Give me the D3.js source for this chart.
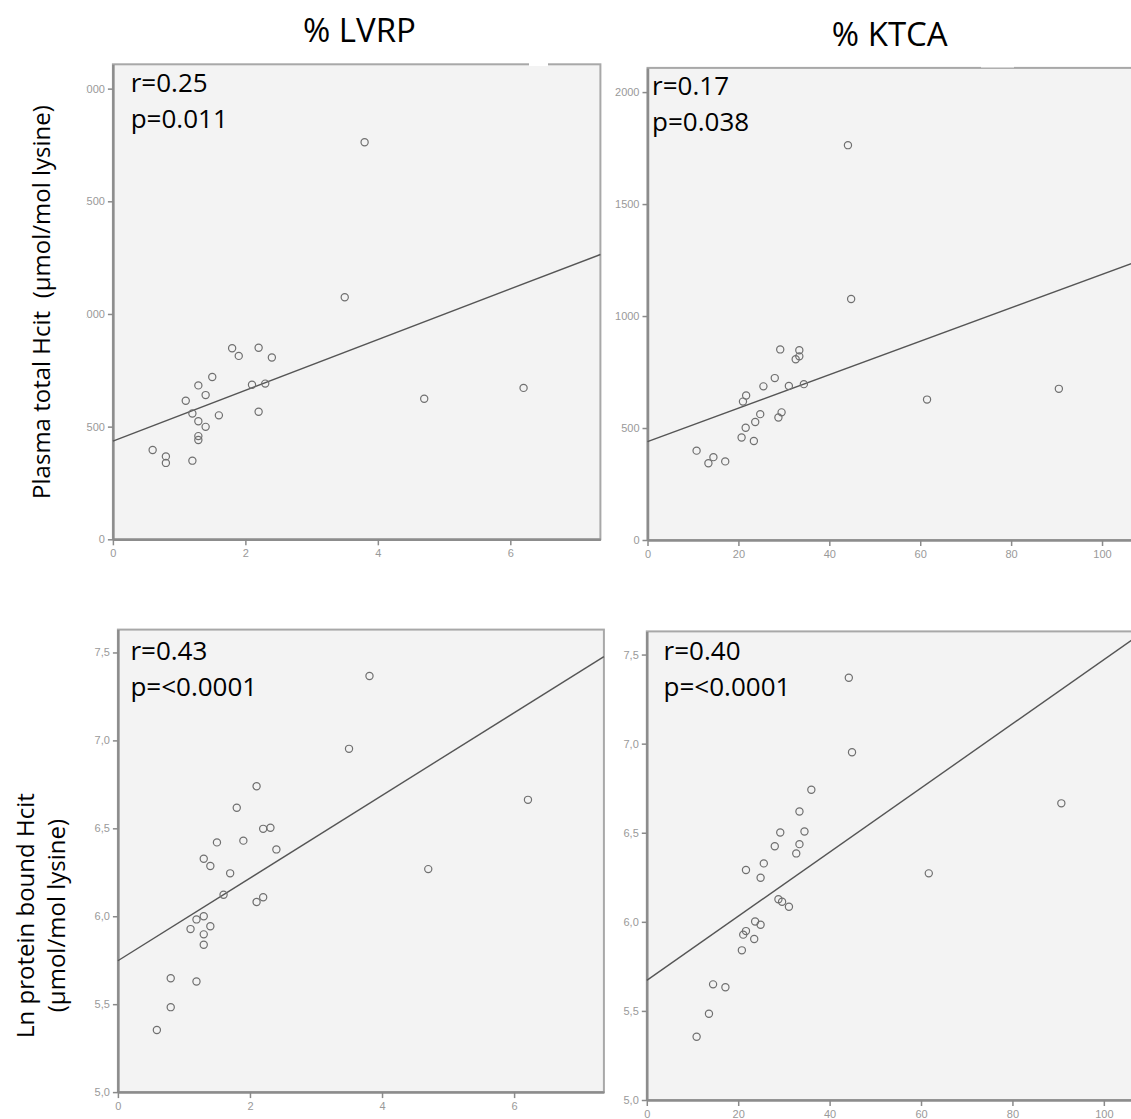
<!DOCTYPE html>
<html>
<head>
<meta charset="utf-8">
<script src="https://cdn.jsdelivr.net/npm/d3@7"></script>
<style>
  body { margin: 0; background: #fff; }
  .tick text { font-family: "Liberation Sans", Arial, sans-serif; font-size: 11px; fill: #999; }
  .tick line { stroke: #8a8a8a; stroke-width: 1.5; }
  .domain { stroke: #8c8c8c; stroke-width: 2.5; }
</style>
</head>
<body>
<div id="chart"></div>
<script>
// ---- data ----
var lvrpTicks = [0, 2, 4, 6]
var ktcaTicks = [0, 20, 40, 60, 80, 100]
var hcitTicks = [0, 500, 1000, 1500, 2000]
var lnTicks = [5.0, 5.5, 6.0, 6.5, 7.0, 7.5]

// plasma total Hcit vs % LVRP
var lvrpTotalX = [3.80, 3.50, 1.80, 1.90, 2.20, 2.40, 1.50, 1.29, 2.10, 2.30, 1.40, 1.10, 4.70, 6.20, 1.20, 1.60, 2.20, 1.29, 1.40, 1.29, 1.29, 0.60, 0.80, 0.80, 1.20]
var lvrpTotalY = [1762, 1074, 848, 814, 850, 807, 720, 683, 686, 691, 640, 615, 624, 672, 558, 550, 566, 524, 499, 458, 441, 396, 368, 339, 349]

// plasma total Hcit vs % KTCA
var ktcaTotalX = [44.1, 44.8, 29.2, 33.4, 33.4, 32.6, 28.0, 25.5, 31.1, 34.4, 21.7, 21.0, 61.5, 90.5, 24.8, 29.5, 28.8, 23.7, 21.6, 20.7, 23.4, 10.8, 14.5, 13.4, 17.1]
var ktcaTotalY = [1763, 1076, 851, 847, 820, 807, 723, 686, 688, 696, 645, 618, 627, 675, 562, 570, 547, 527, 501, 458, 442, 399, 370, 343, 351]

// ln protein bound Hcit vs % LVRP
var lvrpBoundX = [3.81, 3.50, 2.10, 1.80, 6.21, 2.20, 2.31, 1.50, 1.90, 2.40, 1.30, 1.40, 1.70, 4.70, 1.60, 2.20, 2.10, 1.30, 1.19, 1.10, 1.40, 1.30, 1.30, 0.80, 1.19, 0.80, 0.59]
var lvrpBoundY = [7.366, 6.952, 6.739, 6.617, 6.662, 6.497, 6.503, 6.420, 6.430, 6.380, 6.327, 6.286, 6.244, 6.268, 6.122, 6.108, 6.081, 6.000, 5.982, 5.927, 5.943, 5.897, 5.838, 5.647, 5.629, 5.483, 5.353]

// ln protein bound Hcit vs % KTCA
var ktcaBoundX = [44.2, 44.9, 36.0, 90.7, 33.4, 29.2, 34.5, 28.0, 33.4, 32.7, 25.6, 21.7, 24.9, 61.7, 28.8, 29.6, 31.1, 23.7, 24.9, 21.7, 21.1, 23.5, 20.8, 14.5, 17.2, 13.6, 10.9]
var ktcaBoundY = [7.370, 6.952, 6.741, 6.665, 6.619, 6.501, 6.507, 6.424, 6.436, 6.384, 6.328, 6.291, 6.247, 6.272, 6.127, 6.113, 6.085, 6.002, 5.984, 5.948, 5.928, 5.904, 5.840, 5.649, 5.633, 5.484, 5.355]

// fit lines (intercept, slope) and stats text
var fitIntercept = [436, 439, 5.747, 5.671]
var fitSlope = [112.5, 7.47, 0.235, 0.018]
var rLabels = ["r=0.25", "r=0.17", "r=0.43", "r=0.40"]
var pLabels = ["p=0.011", "p=0.038", "p=<0.0001", "p=<0.0001"]
var colTitles = ["% LVRP", "% KTCA"]

// ---- layout ----
var width = 1131
var height = 1119

var panels = [
    { xs: lvrpTotalX, ys: lvrpTotalY, xDom: [0, 7.36], yDom: [0, 2108], xTicks: lvrpTicks, yTicks: hcitTicks,
      left: 112.9, right: 600.4, top: 64.3, bottom: 539.3, tx: 130.7, ty: 92.3, clipX: 86 },
    { xs: ktcaTotalX, ys: ktcaTotalY, xDom: [0, 108], yDom: [0, 2108], xTicks: ktcaTicks, yTicks: hcitTicks,
      left: 647.5, right: 1138.4, top: 67.9, bottom: 540, tx: 652.1, ty: 94.6 },
    { xs: lvrpBoundX, ys: lvrpBoundY, xDom: [0, 7.36], yDom: [5, 7.63], xTicks: lvrpTicks, yTicks: lnTicks,
      left: 117.9, right: 603.9, top: 629.6, bottom: 1092.1, tx: 130.4, ty: 660, comma: true },
    { xs: ktcaBoundX, ys: ktcaBoundY, xDom: [0, 108], yDom: [5, 7.63], xTicks: ktcaTicks, yTicks: lnTicks,
      left: 646.8, right: 1140.4, top: 631.4, bottom: 1100, tx: 663.6, ty: 660, comma: true }
]

var svg = d3.select("#chart")
    .append("svg")
    .attr("width", width)
    .attr("height", height)

var titleFont = "'Open Sans', 'Noto Sans', sans-serif"

panels.forEach(function (p, i) {
    var x = d3.scaleLinear().domain(p.xDom).range([p.left, p.right])
    var y = d3.scaleLinear().domain(p.yDom).range([p.bottom, p.top])

    var g = svg.append("g")

    g.append("rect")
        .attr("x", p.left)
        .attr("y", p.top)
        .attr("width", p.right - p.left)
        .attr("height", p.bottom - p.top)
        .style("fill", "#f3f3f3")
        .style("stroke", "#a8a8a8")
        .style("stroke-width", 2)

    var fmt = p.comma ? (d => d.toFixed(1).replace(".", ",")) : d3.format("d")

    var yAxis = g.append("g")
        .attr("transform", `translate(${p.left},0)`)
        .call(d3.axisLeft(y).tickValues(p.yTicks).tickFormat(fmt).tickSize(5).tickSizeOuter(0).tickPadding(3))

    if (p.clipX) {
        // the left edge of the first panel's tick labels is cut off in the figure
        svg.append("clipPath").attr("id", "clip" + i)
            .append("rect").attr("x", p.clipX - p.left).attr("y", 0).attr("width", 300).attr("height", height)
        yAxis.attr("clip-path", `url(#clip${i})`)
    }

    g.append("g")
        .attr("transform", `translate(0,${p.bottom})`)
        .call(d3.axisBottom(x).tickValues(p.xTicks).tickSize(6).tickSizeOuter(0).tickPadding(4))

    // fit line
    g.append("line")
        .attr("x1", x(p.xDom[0]))
        .attr("y1", y(fitIntercept[i] + fitSlope[i] * p.xDom[0]))
        .attr("x2", x(p.xDom[1]))
        .attr("y2", y(fitIntercept[i] + fitSlope[i] * p.xDom[1]))
        .style("stroke", "#555")
        .style("stroke-width", 1.4)

    g.selectAll("circle")
        .data(p.xs.map((v, k) => [v, p.ys[k]]))
        .enter()
        .append("circle")
        .attr("cx", d => x(d[0]))
        .attr("cy", d => y(d[1]))
        .attr("r", 3.6)
        .style("fill", "none")
        .style("stroke", "#6f6f6f")
        .style("stroke-width", 1.2)

    g.append("text")
        .attr("x", p.tx)
        .attr("y", p.ty)
        .style("font-family", titleFont)
        .style("font-size", "26px")
        .text(rLabels[i])

    g.append("text")
        .attr("x", p.tx)
        .attr("y", p.ty + 36)
        .style("font-family", titleFont)
        .style("font-size", "26px")
        .text(pLabels[i])
})

// small white gaps in the top frame lines, as in the figure
svg.append("rect").attr("x", 529).attr("y", 62).attr("width", 19).attr("height", 4).style("fill", "#fff")
svg.append("rect").attr("x", 981).attr("y", 65.5).attr("width", 33).attr("height", 2).style("fill", "#fff")

// column titles
svg.append("text")
    .attr("x", 359.5).attr("y", 42)
    .attr("text-anchor", "middle")
    .style("font-family", titleFont)
    .style("font-size", "33px")
    .text(colTitles[0])

svg.append("text")
    .attr("x", 889.8).attr("y", 46.4)
    .attr("text-anchor", "middle")
    .style("font-family", titleFont)
    .style("font-size", "33px")
    .text(colTitles[1])

// row labels
svg.append("text")
    .attr("transform", "translate(50,302) rotate(-90)")
    .attr("text-anchor", "middle")
    .style("font-family", titleFont)
    .style("font-size", "24px")
    .style("white-space", "pre")
    .text("Plasma total Hcit  (\u00b5mol/mol lysine)")

svg.append("text")
    .attr("transform", "translate(33.5,915.6) rotate(-90)")
    .attr("text-anchor", "middle")
    .style("font-family", titleFont)
    .style("font-size", "24px")
    .text("Ln protein bound Hcit")

svg.append("text")
    .attr("transform", "translate(65,915.6) rotate(-90)")
    .attr("text-anchor", "middle")
    .style("font-family", titleFont)
    .style("font-size", "24px")
    .text("(\u00b5mol/mol lysine)")
</script>
</body>
</html>
